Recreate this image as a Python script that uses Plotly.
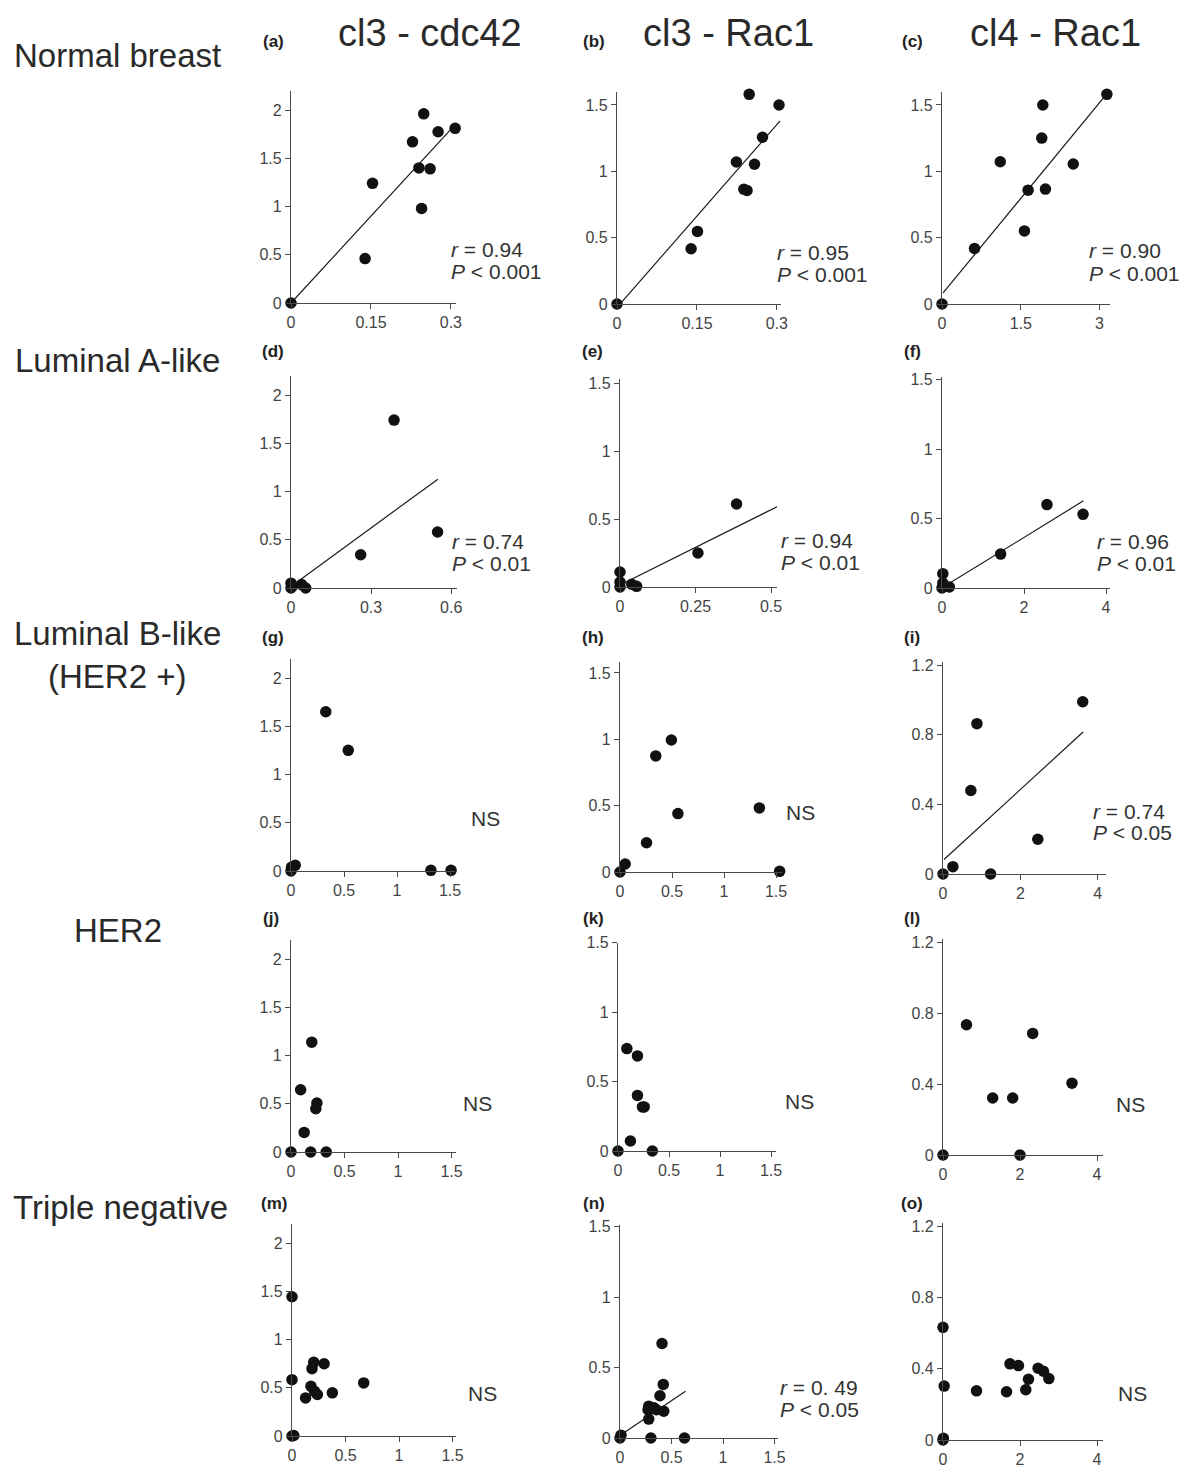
import plotly.graph_objects as go

W, H = 1182, 1467

# ---------------- data ----------------
a_x = [0, 0.139, 0.153, 0.228, 0.249, 0.276, 0.308, 0.240, 0.261, 0.245]
a_y = [0, 0.46, 1.24, 1.67, 1.96, 1.775, 1.81, 1.40, 1.39, 0.98]
a_fit_x = [0, 0.305]
a_fit_y = [0, 1.83]

b_x = [0, 0.139, 0.151, 0.224, 0.248, 0.304, 0.273, 0.258, 0.238, 0.244]
b_y = [0, 0.416, 0.547, 1.07, 1.58, 1.50, 1.257, 1.053, 0.865, 0.855]
b_fit_x = [0.008, 0.306]
b_fit_y = [0.01, 1.38]

c_x = [0, 0.62, 1.11, 1.64, 1.57, 1.90, 1.92, 1.97, 2.50, 3.14]
c_y = [0, 0.418, 1.072, 0.858, 0.551, 1.25, 1.50, 0.866, 1.055, 1.58]
c_fit_x = [0.02, 3.13]
c_fit_y = [0.083, 1.58]

d_x = [0, 0, 0.005, 0.04, 0.055, 0.261, 0.386, 0.549]
d_y = [0, 0.05, 0.02, 0.035, 0.0, 0.345, 1.74, 0.58]
d_fit_x = [0.009, 0.55]
d_fit_y = [0.034, 1.128]

e_x = [0, 0, 0, 0.039, 0.055, 0.258, 0.386]
e_y = [0.11, 0.037, 0, 0.02, 0.005, 0.25, 0.61]
e_fit_x = [0.005, 0.52]
e_fit_y = [0.02, 0.59]

f_x = [0.02, 0.02, 0, 0.18, 1.43, 2.56, 3.44]
f_y = [0.103, 0.036, 0, 0.007, 0.244, 0.60, 0.53]
f_fit_x = [0.06, 3.45]
f_fit_y = [0.012, 0.627]

g_x = [0, 0.005, 0.04, 0.328, 0.54, 1.32, 1.51]
g_y = [0, 0.04, 0.06, 1.65, 1.25, 0.007, 0.007]

h_x = [0, 0.05, 0.255, 0.344, 0.494, 0.557, 1.34, 1.535]
h_y = [0, 0.06, 0.22, 0.875, 0.995, 0.44, 0.483, 0.005]

i_x = [0, 0.255, 0.72, 0.877, 1.23, 2.45, 3.61]
i_y = [0, 0.042, 0.48, 0.864, 0, 0.20, 0.99]
i_fit_x = [0.025, 3.62]
i_fit_y = [0.083, 0.816]

j_x = [0, 0.184, 0.329, 0.123, 0.09, 0.194, 0.242, 0.232]
j_y = [0, 0, 0, 0.203, 0.645, 1.138, 0.507, 0.448]

k_x = [0, 0.087, 0.191, 0.191, 0.24, 0.257, 0.122, 0.337]
k_y = [0, 0.737, 0.684, 0.40, 0.317, 0.317, 0.072, 0]

l_x = [0, 0.61, 1.29, 1.81, 2.0, 2.33, 3.35]
l_y = [0, 0.736, 0.322, 0.322, 0, 0.687, 0.406]

m_x = [0, 0, 0, 0.017, 0.203, 0.187, 0.30, 0.177, 0.21, 0.237, 0.127, 0.377, 0.67]
m_y = [1.443, 0.584, 0, 0.005, 0.763, 0.698, 0.749, 0.515, 0.464, 0.43, 0.395, 0.447, 0.55]

n_x = [0, 0.01, 0.30, 0.626, 0.408, 0.42, 0.388, 0.279, 0.33, 0.272, 0.354, 0.425, 0.279]
n_y = [0, 0.02, 0, 0, 0.67, 0.38, 0.30, 0.226, 0.214, 0.20, 0.20, 0.19, 0.134]
n_fit_x = [0.017, 0.636]
n_fit_y = [0.027, 0.331]

o_x = [0, 0.01, 0, 0.03, 0.87, 1.65, 1.74, 1.96, 2.15, 2.22, 2.47, 2.61, 2.75]
o_y = [0, 0.01, 0.633, 0.303, 0.276, 0.271, 0.428, 0.418, 0.282, 0.341, 0.403, 0.386, 0.345]

# tick values
ticks_y_2 = [0, 0.5, 1, 1.5, 2]
ticks_y_15 = [0, 0.5, 1, 1.5]
ticks_y_12 = [0, 0.4, 0.8, 1.2]
ticks_x_03 = [0, 0.15, 0.3]
ticks_x_3 = [0, 1.5, 3]
ticks_x_06 = [0, 0.3, 0.6]
ticks_x_05 = [0, 0.25, 0.5]
ticks_x_4 = [0, 2, 4]
ticks_x_15 = [0, 0.5, 1, 1.5]

col_titles = ["cl3 - cdc42", "cl3 - Rac1", "cl4 - Rac1"]
row_titles = ["Normal breast", "Luminal A-like", "Luminal B-like", "(HER2 +)", "HER2", "Triple negative"]
panel_letters = list("abcdefghijklmno")

stats = {
    "a": ("0.94", "0.001"), "b": ("0.95", "0.001"), "c": ("0.90", "0.001"),
    "d": ("0.74", "0.01"), "e": ("0.94", "0.01"), "f": ("0.96", "0.01"),
    "i": ("0.74", "0.05"), "n": ("0. 49", "0.05"),
}

series = {
    "a": (a_x, a_y, a_fit_x, a_fit_y), "b": (b_x, b_y, b_fit_x, b_fit_y),
    "c": (c_x, c_y, c_fit_x, c_fit_y), "d": (d_x, d_y, d_fit_x, d_fit_y),
    "e": (e_x, e_y, e_fit_x, e_fit_y), "f": (f_x, f_y, f_fit_x, f_fit_y),
    "g": (g_x, g_y, None, None), "h": (h_x, h_y, None, None),
    "i": (i_x, i_y, i_fit_x, i_fit_y), "j": (j_x, j_y, None, None),
    "k": (k_x, k_y, None, None), "l": (l_x, l_y, None, None),
    "m": (m_x, m_y, None, None), "n": (n_x, n_y, n_fit_x, n_fit_y),
    "o": (o_x, o_y, None, None),
}

x_ticks = {"a": ticks_x_03, "b": ticks_x_03, "c": ticks_x_3, "d": ticks_x_06,
           "e": ticks_x_05, "f": ticks_x_4, "g": ticks_x_15, "h": ticks_x_15,
           "i": ticks_x_4, "j": ticks_x_15, "k": ticks_x_15, "l": ticks_x_4,
           "m": ticks_x_15, "n": ticks_x_15, "o": ticks_x_4}
y_ticks = {"a": ticks_y_2, "b": ticks_y_15, "c": ticks_y_15, "d": ticks_y_2,
           "e": ticks_y_15, "f": ticks_y_15, "g": ticks_y_2, "h": ticks_y_15,
           "i": ticks_y_12, "j": ticks_y_2, "k": ticks_y_15, "l": ticks_y_12,
           "m": ticks_y_2, "n": ticks_y_15, "o": ticks_y_12}

# ---------------- geometry (window pixels) ----------------
# origin x, origin y, px per x unit, px per y unit, x axis end, y axis end
geom = {
    "a": (291, 303, 533, 96.5, 0.31, 2.2),
    "b": (617, 304, 533, 132.7, 0.308, 1.6),
    "c": (942, 304, 52.5, 132.7, 3.2, 1.6),
    "d": (291, 588, 267, 96.5, 0.62, 2.2),
    "e": (620, 587, 302, 136, 0.52, 1.53),
    "f": (942, 588, 41, 139, 4.1, 1.52),
    "g": (291, 871, 106, 96.5, 1.55, 2.2),
    "h": (620, 872, 104, 132.7, 1.56, 1.58),
    "i": (943, 874, 38.7, 174, 4.2, 1.22),
    "j": (291, 1152, 107, 96.5, 1.54, 2.2),
    "k": (618, 1151, 102, 139, 1.55, 1.5),
    "l": (943, 1155, 38.5, 177, 4.15, 1.22),
    "m": (292, 1436, 107, 96.5, 1.53, 2.2),
    "n": (620, 1438, 103, 141, 1.53, 1.51),
    "o": (943, 1440, 38.5, 178, 4.15, 1.22),
}
stat_pos = {"a": (449, 250), "b": (775, 252), "c": (1087, 251), "d": (450, 541),
            "e": (779, 540), "f": (1095, 541), "i": (1091, 811), "n": (778, 1387)}
ns_pos = {"g": (485, 818), "h": (800, 812), "j": (478, 1103), "k": (799, 1101),
          "l": (1130, 1104), "m": (482, 1393), "o": (1132, 1393)}
letter_pos = {"a": (273, 42), "b": (594, 42), "c": (912, 42),
              "d": (273, 352), "e": (592, 352), "f": (912, 352),
              "g": (273, 637), "h": (593, 637), "i": (912, 637),
              "j": (271, 918), "k": (593, 918), "l": (912, 918),
              "m": (274, 1203), "n": (594, 1203), "o": (912, 1203)}
col_title_pos = [(430, 33), (728, 33), (1055, 33)]
# (x, y, vertical anchor) for each row label
row_title_pos = [(117, 55, "middle"), (117, 361, "middle"), (117, 654, "bottom"),
                 (117, 656, "top"), (118, 930, "middle"), (120, 1207, "middle")]

FONT = "Arial, Liberation Sans, Helvetica, sans-serif"
AX = "#4a4a4a"
TXT = "#333333"


def fx(px):
    return px / W


def fy(py):
    return 1 - py / H


def fmt(v):
    return "%g" % v


fig = go.Figure()
layout = dict(width=W, height=H, autosize=False,
              margin=dict(l=0, r=0, t=0, b=0, pad=0, autoexpand=False),
              paper_bgcolor="white", plot_bgcolor="rgba(0,0,0,0)", showlegend=False,
              font=dict(family=FONT, color=TXT))
annotations = []

for idx, key in enumerate(panel_letters, start=1):
    xs, ys, fxs, fys = series[key]
    ox, oy, sx, sy, xend, yend = geom[key]
    xa = "x" if idx == 1 else f"x{idx}"
    ya = "y" if idx == 1 else f"y{idx}"
    xname = "xaxis" if idx == 1 else f"xaxis{idx}"
    yname = "yaxis" if idx == 1 else f"yaxis{idx}"

    if fxs is not None:
        fig.add_trace(go.Scatter(x=fxs, y=fys, mode="lines", xaxis=xa, yaxis=ya,
                                 line=dict(color="#1a1a1a", width=1.2), hoverinfo="skip"))
    fig.add_trace(go.Scatter(x=xs, y=ys, mode="markers", xaxis=xa, yaxis=ya,
                             marker=dict(size=11.5, color="#111111"), cliponaxis=False))

    common = dict(showline=True, linecolor=AX, linewidth=1.3, ticks="outside",
                  ticklen=5, tickwidth=1.2, tickcolor=AX, showgrid=False,
                  zeroline=False, tickfont=dict(size=16, color="#444444", family=FONT),
                  fixedrange=True, automargin=False)
    layout[xname] = dict(common, domain=[fx(ox), fx(ox + sx * xend)], range=[0, xend],
                         anchor=ya, tickmode="array", tickvals=x_ticks[key],
                         ticktext=[fmt(v) for v in x_ticks[key]])
    layout[yname] = dict(common, domain=[fy(oy), fy(oy - sy * yend)], range=[0, yend],
                         anchor=xa, tickmode="array", tickvals=y_ticks[key],
                         ticktext=[fmt(v) for v in y_ticks[key]])

    lx, ly = letter_pos[key]
    annotations.append(dict(x=fx(lx), y=fy(ly), xref="paper", yref="paper",
                            text=f"<b>({key})</b>", showarrow=False, xanchor="center",
                            yanchor="middle", font=dict(size=17, color="#222222", family=FONT)))
    if key in stats:
        rv, pv = stats[key]
        sxp, syp = stat_pos[key]
        annotations.append(dict(x=fx(sxp), y=fy(syp), xref="paper", yref="paper",
                                text=f"<i>r</i> = {rv}", showarrow=False, xanchor="left",
                                yanchor="middle", font=dict(size=21, color=TXT, family=FONT)))
        annotations.append(dict(x=fx(sxp), y=fy(syp + 22), xref="paper", yref="paper",
                                text=f"<i>P</i> &lt; {pv}", showarrow=False, xanchor="left",
                                yanchor="middle", font=dict(size=21, color=TXT, family=FONT)))
    if key in ns_pos:
        nx, ny = ns_pos[key]
        annotations.append(dict(x=fx(nx), y=fy(ny), xref="paper", yref="paper",
                                text="NS", showarrow=False, xanchor="center",
                                yanchor="middle", font=dict(size=21, color=TXT, family=FONT)))

for t, (px, py) in zip(col_titles, col_title_pos):
    annotations.append(dict(x=fx(px), y=fy(py), xref="paper", yref="paper", text=t,
                            showarrow=False, xanchor="center", yanchor="middle",
                            font=dict(size=38, color="#2a2a2a", family=FONT)))
for t, (px, py, va) in zip(row_titles, row_title_pos):
    annotations.append(dict(x=fx(px), y=fy(py), xref="paper", yref="paper", text=t,
                            showarrow=False, xanchor="center", yanchor=va,
                            font=dict(size=33, color="#2a2a2a", family=FONT)))

layout["annotations"] = annotations
fig.update_layout(**layout)
# remove the browser's default 8px body margin so the figure sits at the window origin
fig.write_html("out.html", config={"displayModeBar": False},
               post_script="document.body.style.margin='0px';document.body.style.overflow='hidden';")
